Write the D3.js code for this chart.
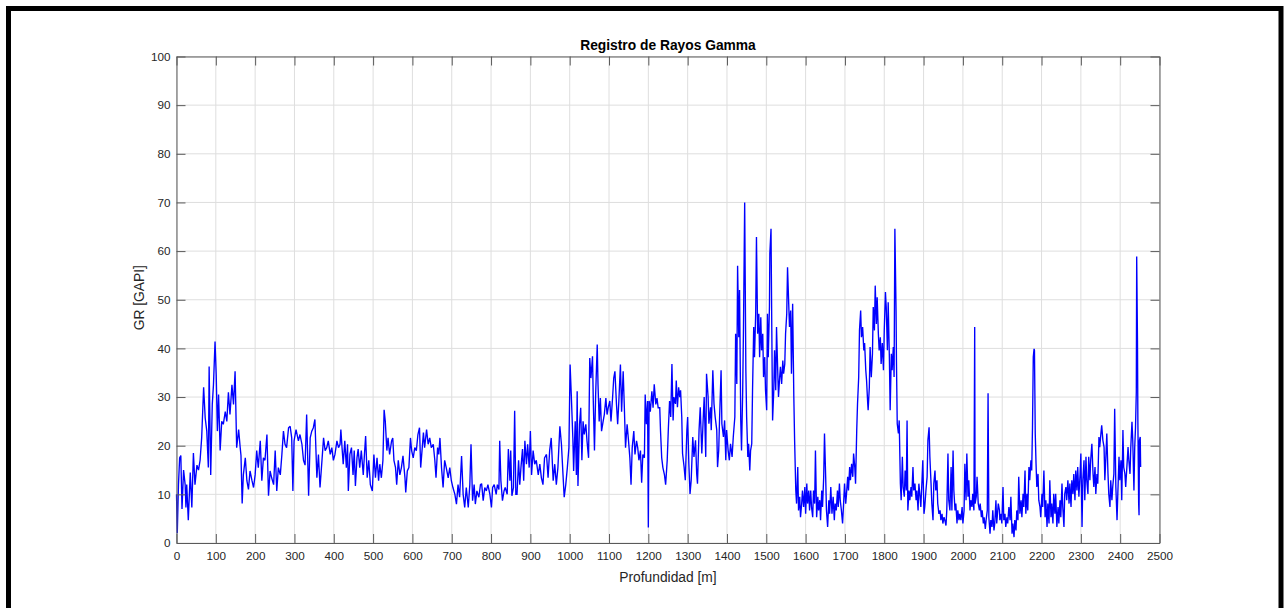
<!DOCTYPE html>
<html>
<head>
<meta charset="utf-8">
<script src="https://cdn.jsdelivr.net/npm/d3@7"></script>
<style>
  html, body { margin: 0; padding: 0; background: #ffffff; }
  svg { display: block; }
  text { font-family: "Liberation Sans", Arial, Helvetica, sans-serif; }
</style>
</head>
<body>
<svg id="chart" width="1286" height="608"></svg>
<script>
// ---------------- DATA ----------------
const titleText = "Registro de Rayos Gamma";
const xLabelText = "Profundidad [m]";
const yLabelText = "GR [GAPI]";
const xDomain = [0, 2500];
const yDomain = [0, 100];
const xTicks = [0,100,200,300,400,500,600,700,800,900,1000,1100,1200,1300,1400,1500,1600,1700,1800,1900,2000,2100,2200,2300,2400,2500];
const yTicks = [0,10,20,30,40,50,60,70,80,90,100];

// Gamma-ray log samples: [depth (m), GR (GAPI)]
const log0to416 = [[0,10],[2,2],[5,12],[8,17.5],[11,18],[14,7],[18,15],[22,12],[24,7.3],[26,12],[30,4.7],[35,14.5],[39,7.3],[43,18.5],[47,12],[52,16],[56,15],[60,17],[64,21.6],[69,32],[73,25.7],[77,23],[81,15.5],[83,36.3],[87,14],[91,28.5],[94,32.5],[98,41.4],[101,34.6],[104,23],[107,30.5],[111,19],[115,25],[119,24.4],[124,27],[128,25],[132,31],[136,26.4],[141,32.5],[145,28.5],[149,35.3],[153,19.6],[158,23.3],[162,19.6],[164,18],[167,8.1],[170,14],[175,17.5],[179,12.8],[183,11],[187,14.8],[192,12.8],[196,11.4],[200,14],[204,19],[208,15.5],[213,21],[217,12.8],[221,17.5],[225,17],[230,22.3],[234,9.7],[238,14.8],[242,13.4],[247,12],[251,19],[255,10.7],[259,15.5],[264,14],[268,18.2],[272,23],[276,20.3],[280,19.6],[285,23.7],[289,24],[293,21.6],[296,10.7],[299,21],[304,23.3],[310,21],[314,22.3],[319,20.3],[323,17],[327,16],[331,26.4],[336,9.7],[340,21.6],[344,23],[348,23.7],[352,25.4],[357,13.4],[361,18.2],[365,11.4],[370,17],[374,21.6],[378,19],[382,19.6],[386,21],[391,18.2],[395,19.6],[399,17],[403,18.2],[408,21],[412,19.6],[416,20.3]];
const log418to833 = [[418,23.3],[421,19.6],[424,16.2],[428,21],[432,15.5],[435,20.3],[437,10.7],[441,18.2],[445,19.6],[449,14],[452,19],[455,11.7],[459,17.5],[462,19.3],[466,15.5],[470,19],[475,14],[478,18.2],[481,22],[485,13.4],[489,17],[493,12],[498,10.7],[502,18.2],[506,13.4],[510,17.5],[514,12.8],[517,16.2],[521,13.4],[525,17],[528,27.4],[531,25],[535,19],[538,21.6],[542,18.2],[547,21],[550,21.6],[553,17],[557,15.5],[560,12],[564,17],[568,14],[572,15.5],[576,17.9],[581,13.4],[583,10.4],[587,14.8],[591,15.5],[595,21.6],[598,19],[602,17.5],[606,19.6],[610,19],[614,22.3],[618,23.7],[621,15.5],[625,19.6],[628,22.7],[631,19.6],[636,23.3],[640,20.3],[644,21.6],[648,19.6],[653,20.3],[657,17],[660,13.4],[664,19.6],[667,18.2],[670,21.6],[674,15.5],[678,11.4],[682,17],[686,15.5],[691,13.4],[695,15.5],[699,12.8],[703,11.4],[708,10],[712,8],[716,12],[720,9.4],[725,17.9],[729,10],[733,7.3],[737,11.4],[742,7.3],[746,12],[749,20.3],[753,8.7],[757,12],[760,8],[764,10.7],[769,9.4],[773,12],[776,12.2],[780,8.7],[784,11.4],[788,10.7],[792,12],[797,10],[801,7.3],[804,11.4],[808,12],[813,10],[816,12],[820,11],[822,21],[825,12.8],[829,8.7],[833,10.7]];
const log836to1254 = [[836,11.4],[841,10],[844,19.3],[848,12.8],[850,19],[853,9.7],[857,11.4],[860,27.2],[863,10],[866,10],[870,17],[873,12],[876,15.5],[880,19.3],[883,12.8],[886,21],[890,16.2],[893,20.3],[897,15.5],[900,23],[903,14],[907,19],[911,16.2],[915,17],[920,14],[924,16.2],[928,13.4],[932,12],[936,17.5],[941,18.2],[945,13.4],[949,19],[953,21.6],[958,12.8],[962,16.2],[966,12],[970,15.5],[975,24],[979,20.3],[983,14],[986,9.4],[990,12],[994,15.5],[998,19.6],[1001,36.7],[1004,30.5],[1008,21.6],[1010,14.8],[1014,25],[1017,14],[1019,31.2],[1021,11.7],[1025,24.4],[1028,27.8],[1031,17],[1034,25],[1037,22.3],[1041,24.4],[1044,21],[1048,17.5],[1051,38],[1054,33.9],[1058,38.4],[1060,29.2],[1063,19],[1066,30.5],[1070,40.8],[1072,32.6],[1075,25],[1078,29.8],[1081,23],[1085,25],[1088,26.4],[1092,29.8],[1095,26.4],[1098,27.8],[1102,29.2],[1105,25],[1109,29.8],[1112,33.9],[1115,35.3],[1119,28.5],[1122,24.4],[1125,29.2],[1129,36.7],[1132,27],[1136,35.3],[1139,27.8],[1142,19.6],[1146,24.4],[1149,21.6],[1153,17.5],[1156,12],[1159,19.6],[1163,23],[1166,18.2],[1170,21],[1173,19.6],[1176,17],[1180,19],[1183,12.4],[1186,18.2],[1190,17.5],[1192,30.5],[1195,24.4],[1198,29.2],[1200,3.2],[1202,29.2],[1205,27],[1209,31.2],[1212,27.8],[1215,32.6],[1219,28.5],[1222,29.8],[1225,27.8],[1229,27.8],[1231,23],[1234,17.5],[1237,15.5],[1241,14],[1244,12],[1248,17],[1251,23.7],[1254,29.2]];
const log1257to1664 = [[1257,25.9],[1260,36.8],[1263,25.2],[1265,30],[1269,28.6],[1271,33.4],[1274,27.9],[1277,32],[1280,30],[1282,31.4],[1285,25.9],[1287,18.4],[1291,15.6],[1294,12.9],[1298,23.2],[1300,25.9],[1303,16.3],[1306,10.1],[1309,12.9],[1313,21.8],[1316,17.7],[1320,21.1],[1323,14.2],[1325,12.2],[1329,23.2],[1332,27.9],[1336,18.4],[1339,24.5],[1342,30],[1346,17.7],[1348,34.8],[1352,30],[1354,24.5],[1358,27.9],[1360,23.2],[1364,35.5],[1367,28.6],[1370,25.9],[1374,23.2],[1376,15.6],[1379,19],[1381,25.2],[1385,35.5],[1387,24.5],[1391,21.8],[1394,25.2],[1397,17],[1399,23.2],[1403,19],[1406,17],[1409,20.4],[1413,17.7],[1416,21.8],[1420,25.9],[1422,43],[1425,32.7],[1427,57],[1430,42.3],[1432,52],[1435,25.2],[1437,19],[1440,31.4],[1442,44.4],[1445,70],[1448,35.5],[1450,25.9],[1453,17.7],[1455,20.4],[1458,14.9],[1460,19],[1463,20.4],[1465,31.4],[1468,44.4],[1470,38.2],[1473,47.1],[1475,62.9],[1478,43],[1481,47.1],[1483,38.2],[1486,46.4],[1488,39.6],[1491,43],[1493,34.1],[1496,38.2],[1498,31.4],[1501,27.3],[1503,47.1],[1505,38.2],[1508,48.5],[1509,59.5],[1512,64.6],[1514,43.7],[1516,25.2],[1519,31.4],[1521,39.6],[1524,31.4],[1526,44.4],[1529,35.5],[1531,30],[1534,34.1],[1536,36.2],[1539,32.7],[1542,37.5],[1544,34.8],[1547,36.8],[1549,43],[1552,47.1],[1554,56.7],[1557,49.2],[1559,44.4],[1562,47.8],[1564,34.8],[1567,49.2],[1570,30],[1572,21.1],[1575,10.8],[1577,8.1],[1580,15.6],[1582,6.7],[1585,9.5],[1587,5.3],[1590,8.1],[1592,10.8],[1595,7.4],[1598,11.5],[1600,6],[1603,12.2],[1605,8.1],[1608,10.8],[1610,6.7],[1613,10.8],[1615,7.4],[1618,5.3],[1620,10.8],[1623,8.1],[1625,19],[1628,5.3],[1631,9.5],[1633,6.7],[1636,8.8],[1638,4.7],[1641,10.8],[1643,7.4],[1646,13.6],[1648,22.5],[1651,13.6],[1653,6.7],[1656,3.3],[1659,8.8],[1661,6],[1664,11.5]];
const log1667to2093 = [[1667,6],[1670,9.5],[1673,4.7],[1675,8.1],[1678,6.7],[1681,10.8],[1683,7.4],[1686,12.2],[1688,8.8],[1691,6.7],[1694,4],[1697,8.8],[1699,12.2],[1702,8.1],[1704,10.1],[1707,13.6],[1709,10.8],[1712,15.6],[1714,12.9],[1717,16.3],[1720,13.6],[1722,18.4],[1725,15.6],[1727,12.2],[1730,23.2],[1732,28.6],[1735,34.1],[1737,43.7],[1740,47.8],[1742,42.3],[1745,44.4],[1748,39.6],[1750,41.1],[1753,35.5],[1755,33.4],[1758,28.6],[1759,27.3],[1762,32],[1764,40.3],[1767,34.1],[1770,38.9],[1772,48.5],[1775,43.7],[1777,52.9],[1780,45],[1782,50.5],[1785,43],[1787,39.6],[1790,42.3],[1792,36.8],[1795,41.1],[1798,35.5],[1800,43.7],[1803,51.6],[1805,48.5],[1808,39.6],[1810,49.5],[1813,38.2],[1815,27.3],[1818,38.9],[1820,35.5],[1823,40.3],[1825,34.1],[1827,64.6],[1830,47.8],[1831,37.5],[1833,24.5],[1836,22.5],[1838,25.2],[1841,12.2],[1843,8.8],[1846,17.7],[1848,11.5],[1851,9.5],[1853,14.9],[1856,10.8],[1858,25.2],[1860,6.7],[1863,10.8],[1865,8.8],[1868,11.5],[1870,9.5],[1873,15.6],[1875,10.8],[1878,12.2],[1881,8.8],[1883,10.8],[1886,6.7],[1888,12.2],[1891,9.5],[1893,7.4],[1896,12.9],[1898,17],[1901,6],[1903,7.4],[1906,10.8],[1909,13.6],[1911,21.1],[1914,23.8],[1916,17.7],[1919,12.2],[1921,8.1],[1924,4.7],[1926,12.2],[1929,14.9],[1931,10.8],[1934,12.9],[1936,8.1],[1939,6],[1942,6.7],[1944,4.7],[1947,6],[1949,4],[1952,5.3],[1954,4.7],[1957,3.6],[1959,6.7],[1962,18.4],[1964,8.8],[1967,6.7],[1970,15.6],[1972,6.7],[1975,19],[1977,10.8],[1980,6.7],[1982,8.1],[1985,4],[1987,6.7],[1990,4.7],[1992,6],[1995,4.7],[1998,7.4],[2000,4],[2003,6.7],[2005,16.3],[2008,8.8],[2010,18.4],[2013,9.5],[2015,12.9],[2018,6.7],[2020,8.8],[2023,7.4],[2025,10.1],[2028,6.7],[2030,44.4],[2031,8.1],[2034,9.5],[2036,13.6],[2039,8.1],[2042,6.7],[2044,8.1],[2047,5.3],[2049,6.7],[2052,4],[2054,5.3],[2057,2.9],[2059,4.7],[2062,6.7],[2064,30.8],[2066,5.3],[2069,1.9],[2071,4.7],[2074,3.3],[2076,6.7],[2079,2.6],[2081,4],[2084,8.8],[2086,4],[2090,8.1],[2093,6.7]];
const log2094to2452 = [[2094,4.7],[2097,6],[2099,4],[2102,11.5],[2104,4.7],[2107,6],[2109,3.3],[2112,5.3],[2114,4],[2117,7.4],[2120,4.7],[2122,9.5],[2125,1.9],[2127,4],[2130,1.2],[2132,4.7],[2135,2.6],[2137,6.7],[2140,4.7],[2142,13.6],[2145,6],[2148,8.8],[2150,5.3],[2153,10.1],[2155,7.4],[2158,14.9],[2160,6],[2163,10.1],[2165,6.7],[2168,15.6],[2170,12.9],[2173,17],[2175,14.9],[2177,23.8],[2179,38.2],[2181,39.9],[2182,39.6],[2184,22.5],[2186,16.3],[2188,11.5],[2191,14.2],[2193,8.8],[2196,7.4],[2198,5.3],[2201,10.1],[2203,7.4],[2206,14.9],[2209,5.3],[2211,8.8],[2214,3.3],[2216,8.1],[2219,4],[2221,12.9],[2224,5.3],[2226,8.1],[2229,4],[2231,10.1],[2234,6],[2236,10.1],[2239,3.3],[2242,7.4],[2244,4],[2247,8.8],[2249,5.3],[2252,12.2],[2254,7.4],[2257,3.3],[2259,10.1],[2262,11.5],[2264,8.8],[2267,12.9],[2270,8.1],[2272,12.2],[2275,7.4],[2277,12.9],[2280,10.1],[2282,14.2],[2285,8.8],[2287,14.9],[2290,10.8],[2292,15.6],[2295,9.5],[2298,14.2],[2300,18.4],[2303,3.3],[2305,12.9],[2308,17],[2310,8.8],[2313,17.7],[2315,12.9],[2318,10.1],[2320,17.7],[2323,12.9],[2325,17],[2328,20.4],[2331,14.2],[2333,11.5],[2336,15.6],[2338,10.1],[2341,14.2],[2343,12.2],[2346,21.8],[2348,19.7],[2351,22.5],[2353,24.2],[2356,21.1],[2359,19.7],[2361,12.9],[2364,18.4],[2366,22.5],[2369,14.2],[2371,10.1],[2374,7.4],[2376,12.9],[2379,8.8],[2381,11.5],[2384,14.2],[2386,27.6],[2389,11.5],[2392,4.7],[2394,10.1],[2397,17.7],[2399,12.9],[2402,17],[2404,8.8],[2407,23.2],[2409,15.6],[2412,14.2],[2414,11.5],[2417,15.6],[2420,19.7],[2422,17],[2425,14.2],[2427,19.7],[2430,24.9],[2432,21.1],[2435,10.8],[2437,19.7],[2439,23.8],[2441,31],[2442,58.9],[2444,41.6],[2445,25.2],[2447,8.1],[2448,5.7],[2449,21.1],[2451,21.8],[2452,15.6]];

const logData = [].concat(log0to416, log418to833, log836to1254, log1257to1664, log1667to2093, log2094to2452);

// ---------------- DRAW ----------------
const svg = d3.select("#chart");
const W = 1286, H = 608;
const plot = { left: 176.5, right: 1159.5, top: 56.5, bottom: 543 };
const axisColor = "#5a5a5a";
const textColor = "#262626";
const gridColor = "#dedede";
const tickLen = 9;

svg.append("rect").attr("x", 0).attr("y", 0).attr("width", W).attr("height", H).attr("fill", "#fff");

// outer black frame
svg.append("rect")
  .attr("x", 8.5).attr("y", 8.5)
  .attr("width", 1272.5).attr("height", 640)
  .attr("fill", "none").attr("stroke", "#000").attr("stroke-width", 5);

const x = d3.scaleLinear().domain(xDomain).range([plot.left, plot.right]);
const y = d3.scaleLinear().domain(yDomain).range([plot.bottom, plot.top]);

// grid
const grid = svg.append("g");
grid.selectAll("line.gx").data(xTicks).enter().append("line")
  .attr("x1", d => x(d)).attr("x2", d => x(d))
  .attr("y1", plot.top).attr("y2", plot.bottom)
  .attr("stroke", gridColor).attr("stroke-width", 1);
grid.selectAll("line.gy").data(yTicks).enter().append("line")
  .attr("x1", plot.left).attr("x2", plot.right)
  .attr("y1", d => y(d)).attr("y2", d => y(d))
  .attr("stroke", gridColor).attr("stroke-width", 1);

// data line
const line = d3.line().x(d => x(d[0])).y(d => y(d[1]));
svg.append("path")
  .datum(logData)
  .attr("d", line)
  .attr("fill", "none")
  .attr("stroke", "#0000ff")
  .attr("stroke-width", 1.35)
  .attr("stroke-linejoin", "miter")
  .attr("stroke-miterlimit", 2);

// axes (ticks pointing inward, MATLAB style, box on)
function styleAxis(g) {
  g.select(".domain").attr("stroke", axisColor).attr("stroke-width", 1);
  g.selectAll(".tick line").attr("stroke", axisColor).attr("stroke-width", 1);
  g.selectAll(".tick text").attr("fill", textColor).attr("font-size", "11.7px")
    .attr("font-family", "'Liberation Sans', Arial, Helvetica, sans-serif");
}

const xAxisB = d3.axisBottom(x).tickValues(xTicks).tickSizeInner(-tickLen).tickSizeOuter(0).tickPadding(9).tickFormat(d3.format("d"));
svg.append("g").attr("transform", `translate(0,${plot.bottom})`).call(xAxisB).call(styleAxis);

const xAxisT = d3.axisTop(x).tickValues(xTicks).tickSizeInner(-tickLen).tickSizeOuter(0).tickFormat("");
svg.append("g").attr("transform", `translate(0,${plot.top})`).call(xAxisT).call(styleAxis);

const yAxisL = d3.axisLeft(y).tickValues(yTicks).tickSizeInner(-tickLen).tickSizeOuter(0).tickPadding(6).tickFormat(d3.format("d"));
svg.append("g").attr("transform", `translate(${plot.left},0)`).call(yAxisL).call(styleAxis);

const yAxisR = d3.axisRight(y).tickValues(yTicks).tickSizeInner(-tickLen).tickSizeOuter(0).tickFormat("");
svg.append("g").attr("transform", `translate(${plot.right},0)`).call(yAxisR).call(styleAxis);

// title and labels
svg.append("text")
  .attr("x", (plot.left + plot.right) / 2).attr("y", 50)
  .attr("text-anchor", "middle")
  .attr("font-size", "13.8px").attr("font-weight", "bold")
  .attr("fill", "#000")
  .text(titleText);

svg.append("text")
  .attr("x", (plot.left + plot.right) / 2).attr("y", 582)
  .attr("text-anchor", "middle")
  .attr("font-size", "13.8px")
  .attr("fill", textColor)
  .text(xLabelText);

svg.append("text")
  .attr("transform", `translate(143.5,${(plot.top + plot.bottom) / 2 - 2}) rotate(-90)`)
  .attr("text-anchor", "middle")
  .attr("font-size", "13.8px")
  .attr("fill", textColor)
  .text(yLabelText);
</script>
</body>
</html>
